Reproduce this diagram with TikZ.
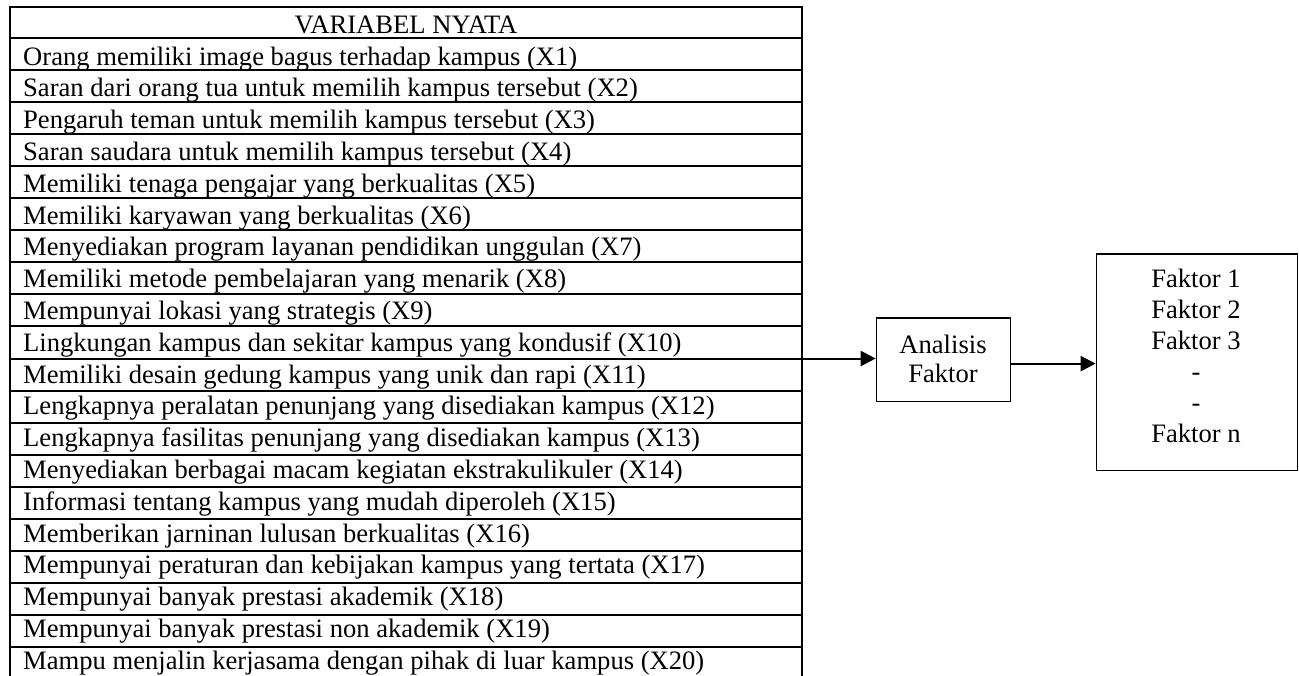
\documentclass[tikz,border=0pt]{standalone}
\usepackage{fontspec}
\setmainfont{Liberation Serif}
\usetikzlibrary{arrows.meta}
\begin{document}
\begin{tikzpicture}[x=1pt,y=-1pt,
  grid/.style={line width=2pt},
  cell/.style={anchor=base west, inner sep=0pt, font=\fontsize{26.6}{31}\selectfont},
  ctext/.style={anchor=base, inner sep=0pt, font=\fontsize{26.6}{31}\selectfont},
  box/.style={draw, line width=1.2pt, inner sep=0pt, anchor=north west},
  arr/.style={line width=2pt, -{Triangle[length=15pt,width=15pt]}}]
\clip (0,0) rectangle (1299,675);
% table frame
\draw[grid] (10,690) -- (10,6.7) -- (802,6.7) -- (802,690);
\foreach \k in {0,...,19} \draw[grid] (10,{38.3+32.02*\k}) -- (802,{38.3+32.02*\k});
\node[ctext] (hdr) at (406,33.3) {VARIABEL NYATA};
\foreach \t [count=\i] in {
Orang memiliki image bagus terhadap kampus (X1),
Saran dari orang tua untuk memilih kampus tersebut (X2),
Pengaruh teman untuk memilih kampus tersebut (X3),
Saran saudara untuk memilih kampus tersebut (X4),
Memiliki tenaga pengajar yang berkualitas (X5),
Memiliki karyawan yang berkualitas (X6),
Menyediakan program layanan pendidikan unggulan (X7),
Memiliki metode pembelajaran yang menarik (X8),
Mempunyai lokasi yang strategis (X9),
Lingkungan kampus dan sekitar kampus yang kondusif (X10),
Memiliki desain gedung kampus yang unik dan rapi (X11),
Lengkapnya peralatan penunjang yang disediakan kampus (X12),
Lengkapnya fasilitas penunjang yang disediakan kampus (X13),
Menyediakan berbagai macam kegiatan ekstrakulikuler (X14),
Informasi tentang kampus yang mudah diperoleh (X15),
Memberikan jarninan lulusan berkualitas (X16),
Mempunyai peraturan dan kebijakan kampus yang tertata (X17),
Mempunyai banyak prestasi akademik (X18),
Mempunyai banyak prestasi non akademik (X19),
Mampu menjalin kerjasama dengan pihak di luar kampus (X20)}
  \node[cell] (x\i) at (23,{65+31.8*(\i-1)}) {\t};
% boxes
\node[box, minimum width=134.3pt, minimum height=83.4pt] (ana) at (875.7,317.3) {};
\node[ctext] (ana1) at (943,353) {Analisis};
\node[ctext] (ana2) at (943,382) {Faktor};
\node[box, minimum width=201.3pt, minimum height=216.7pt] (fak) at (1095.7,253.3) {};
\node[ctext] (f1) at (1196,287) {Faktor 1};
\node[ctext] (f2) at (1196,318) {Faktor 2};
\node[ctext] (f3) at (1196,349) {Faktor 3};
\node[ctext] (f4) at (1196,380) {-};
\node[ctext] (f5) at (1196,411) {-};
\node[ctext] (f6) at (1196,442) {Faktor n};
% arrows
\coordinate (t10) at (802,358.5);
\draw[arr] (t10) -- (t10 -| ana.west);
\draw[arr] ([yshift=-4pt]ana.east) -- ([yshift=-4pt]ana.east -| fak.west);
\end{tikzpicture}
\end{document}
